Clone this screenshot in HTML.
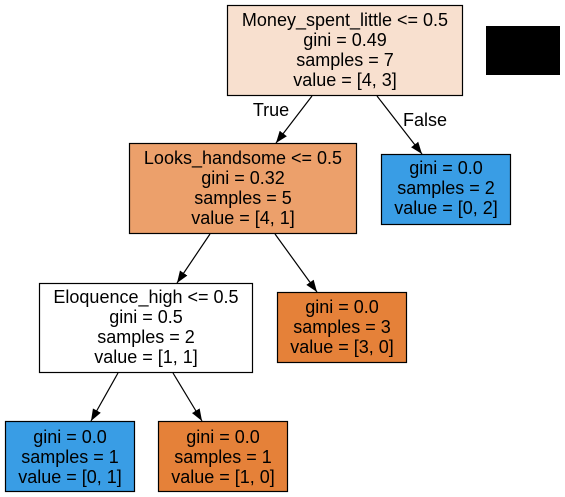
<!DOCTYPE html>
<html><head><meta charset="utf-8"><style>
html,body{margin:0;padding:0;background:#fff;}
svg{display:block;}
text{font-family:"Liberation Sans",Arial,sans-serif;font-size:18px;fill:#000;text-anchor:middle;}
rect.n{stroke:#000;stroke-width:1.2;}
line{stroke:#000;stroke-width:1.2;}
</style></head><body>
<svg width="565" height="497" viewBox="0 0 565 497" xmlns="http://www.w3.org/2000/svg">
<defs>
<marker id="a" viewBox="0 0 12 10" refX="12" refY="5" markerWidth="12" markerHeight="10" markerUnits="userSpaceOnUse" orient="auto">
<path d="M0,0.5 L12,5 L0,9.5 z" fill="#000"/>
</marker>
</defs>
<rect x="486" y="26" width="74" height="49" fill="#000"/>

<rect class="n" x="227.5" y="5.5" width="235" height="90" fill="#f8e0cf"/>
<text x="345" y="26">Money_spent_little &lt;= 0.5</text>
<text x="345" y="46">gini = 0.49</text>
<text x="345" y="66">samples = 7</text>
<text x="345" y="86">value = [4, 3]</text>

<rect class="n" x="129.5" y="143.5" width="227" height="90" fill="#eca06b"/>
<text x="243" y="164">Looks_handsome &lt;= 0.5</text>
<text x="243" y="184">gini = 0.32</text>
<text x="243" y="204">samples = 5</text>
<text x="243" y="224">value = [4, 1]</text>

<rect class="n" x="381.5" y="154.5" width="129" height="70" fill="#399de5"/>
<text x="446" y="174">gini = 0.0</text>
<text x="446" y="194">samples = 2</text>
<text x="446" y="214">value = [0, 2]</text>

<rect class="n" x="39.5" y="283.5" width="213" height="89" fill="#ffffff"/>
<text x="146" y="303">Eloquence_high &lt;= 0.5</text>
<text x="146" y="323">gini = 0.5</text>
<text x="146" y="343">samples = 2</text>
<text x="146" y="363">value = [1, 1]</text>

<rect class="n" x="277.5" y="292.5" width="129" height="70" fill="#e58139"/>
<text x="342" y="313">gini = 0.0</text>
<text x="342" y="333">samples = 3</text>
<text x="342" y="353">value = [3, 0]</text>

<rect class="n" x="5.5" y="421.5" width="129" height="70" fill="#399de5"/>
<text x="70" y="443">gini = 0.0</text>
<text x="70" y="463">samples = 1</text>
<text x="70" y="483">value = [0, 1]</text>

<rect class="n" x="158.5" y="421.5" width="129" height="70" fill="#e58139"/>
<text x="223" y="443">gini = 0.0</text>
<text x="223" y="463">samples = 1</text>
<text x="223" y="483">value = [1, 0]</text>

<line x1="312" y1="96" x2="276" y2="143" marker-end="url(#a)"/>
<line x1="377" y1="96" x2="422" y2="154" marker-end="url(#a)"/>
<line x1="210" y1="234" x2="177" y2="283" marker-end="url(#a)"/>
<line x1="275" y1="234" x2="317" y2="292" marker-end="url(#a)"/>
<line x1="118" y1="373" x2="91" y2="421" marker-end="url(#a)"/>
<line x1="173" y1="373" x2="202" y2="421" marker-end="url(#a)"/>

<text x="271" y="116">True</text>
<text x="425" y="126">False</text>
</svg>
</body></html>
